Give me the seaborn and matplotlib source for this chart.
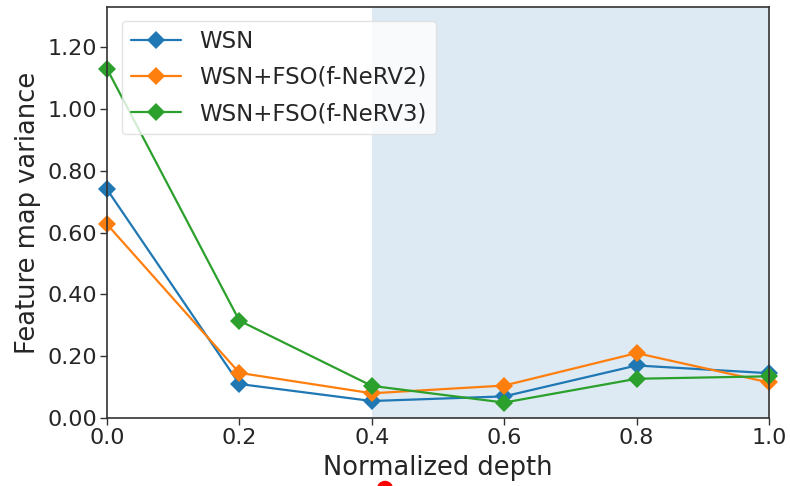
import numpy as np
import pandas as pd
import seaborn as sns
import matplotlib
matplotlib.use("Agg")
import matplotlib.pyplot as plt
from matplotlib.patches import Ellipse

depth = [0.0, 0.2, 0.4, 0.6, 0.8, 1.0]
wsn = [0.74, 0.11, 0.055, 0.07, 0.17, 0.145]
fso2 = [0.627, 0.146, 0.08, 0.105, 0.21, 0.115]
fso3 = [1.13, 0.315, 0.104, 0.05, 0.127, 0.135]
series_names = ["WSN", "WSN+FSO(f-NeRV2)", "WSN+FSO(f-NeRV3)"]
yticks = [0.0, 0.2, 0.4, 0.6, 0.8, 1.0, 1.2]
xticks = [0.0, 0.2, 0.4, 0.6, 0.8, 1.0]

df = pd.DataFrame({
    "depth": depth * 3,
    "variance": wsn + fso2 + fso3,
    "method": sum([[n] * len(depth) for n in series_names], []),
})

sns.set_style("white")
plt.rcParams["font.family"] = ["DejaVu Sans"]

fig = plt.figure(figsize=(7.9, 4.86), dpi=100)
ax = fig.add_axes([0.1354, 0.1399, 0.838, 0.8457])

ax.axvspan(0.4, 1.0, color="#1f77b4", alpha=0.15, lw=0, zorder=0)

palette = ["#1f77b4", "#ff7f0e", "#2ca02c"]
sns.lineplot(data=df, x="depth", y="variance", hue="method", hue_order=series_names,
             palette=palette, marker="D", markersize=9.5, markeredgewidth=0,
             linewidth=1.6, ax=ax, clip_on=False)

ax.set_xlim(0, 1.0)
ax.set_ylim(0, 1.33)
ax.set_xticks(xticks)
ax.set_xticklabels([f"{v:.1f}" for v in xticks])
ax.set_yticks(yticks)
ax.set_yticklabels([f"{v:.2f}" for v in yticks])
ax.tick_params(axis="both", labelsize=16, length=5, width=1, color="#333333",
               direction="out", bottom=True, left=True, pad=2)
ax.set_xlabel("Normalized depth", fontsize=18.5, labelpad=5)
ax.set_ylabel("Feature map variance", fontsize=18.5, labelpad=5)
for s in ax.spines.values():
    s.set_color("#333333")
    s.set_linewidth(1.2)

leg = ax.legend(loc="upper left", fontsize=16.5, frameon=True, handlelength=2.2,
                borderpad=0.4, labelspacing=0.58, bbox_to_anchor=(0.005, 0.995))
leg.get_frame().set_edgecolor("#dddddd")

fig.patches.append(Ellipse((385 / 790, 1 - 489 / 486), 15 / 790, 15 / 486,
                           transform=fig.transFigure, color="red", zorder=10))

fig.savefig("out.png", dpi=100)
